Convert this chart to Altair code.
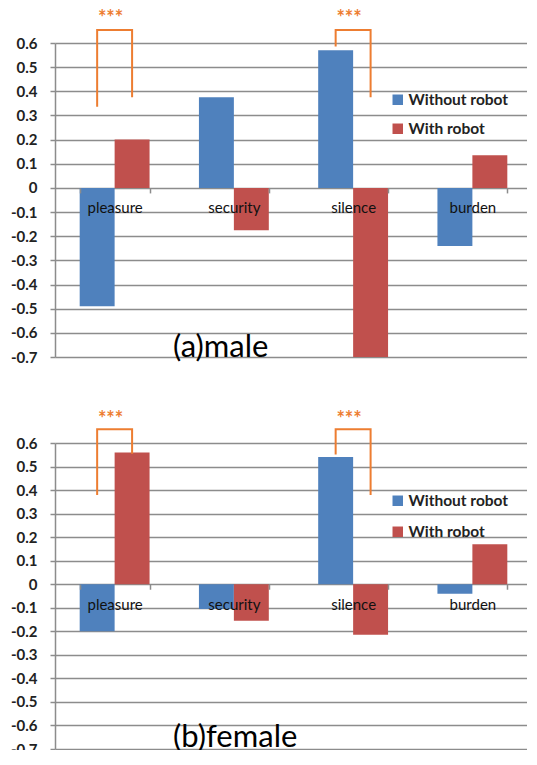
import altair as alt
import pandas as pd

categories = ["pleasure", "security", "silence", "burden"]
series = ["Without robot", "With robot"]
male_without = [-0.49, 0.375, 0.57, -0.24]
male_with = [0.20, -0.175, -0.70, 0.135]
female_without = [-0.20, -0.105, 0.54, -0.04]
female_with = [0.56, -0.155, -0.215, 0.17]

# significance brackets: (category, left-leg bottom, right-leg bottom, top)
male_brackets = [("pleasure", 0.336, 0.375, 0.654), ("silence", 0.586, 0.375, 0.654)]
female_brackets = [("pleasure", 0.379, 0.554, 0.658), ("silence", 0.551, 0.379, 0.658)]
star_y = 0.742
star_label = "***"
y_ticks = [0.6, 0.5, 0.4, 0.3, 0.2, 0.1, 0.0, -0.1, -0.2, -0.3, -0.4, -0.5, -0.6, -0.7]

BLUE = "#4F81BD"
RED = "#C0504D"
ORANGE = "#ED7D31"
GRID = "#8c8c8c"
FONT = "Lato"


def panel(without, with_, brackets, title, title_y, W, H, legend_y, row_pad):
    rows = []
    for c, a, b in zip(categories, without, with_):
        rows.append({"cat": c, "series": series[0], "v": a})
        rows.append({"cat": c, "series": series[1], "v": b})
    df = pd.DataFrame(rows)

    brows = []
    for i, (c, l, r, t) in enumerate(brackets):
        brows += [
            {"b": i, "o": 0, "cat": c, "series": series[0], "v": l},
            {"b": i, "o": 1, "cat": c, "series": series[0], "v": t},
            {"b": i, "o": 2, "cat": c, "series": series[1], "v": t},
            {"b": i, "o": 3, "cat": c, "series": series[1], "v": r},
        ]
    bdf = pd.DataFrame(brows)
    sdf = pd.DataFrame({"cat": [b[0] for b in brackets], "v": [star_y] * len(brackets),
                        "s": [star_label] * len(brackets)})

    xscale = alt.Scale(domain=categories, paddingInner=0.414, paddingOuter=0.207)
    yscale = alt.Scale(domain=[-0.7, 0.6], nice=False, zero=False)
    offscale = alt.Scale(domain=series, paddingInner=0, paddingOuter=0)

    xaxis = alt.Axis(
        title=None, orient="bottom", offset=-(H * 0.7 / 1.3), tickBand="extent",
        tickSize=5, tickColor=GRID, tickWidth=1.5, domain=False,
        labelFontSize=15, labelColor="#111", labelFont=FONT, labelPadding=8,
        labelAngle=0, grid=False, zindex=1,
    )
    yaxis = alt.Axis(
        title=None, values=y_ticks, tickSize=5, tickColor=GRID, tickWidth=1.5,
        domainColor=GRID, domainWidth=1.5, gridColor=GRID, gridWidth=1.4,
        labelFontSize=15, labelFontWeight="bold", labelColor="#222", labelFont=FONT,
        labelPadding=13, labelOverlap=False, labelFlush=False, labelBound=False,
        labelExpr="datum.value == 0 ? '0' : replace(format(datum.value, '.1f'), '\u2212', '-')",
    )

    X = alt.X("cat:N", scale=xscale, axis=xaxis, sort=categories)
    XO = alt.XOffset("series:N", scale=offscale, sort=series)
    Y = alt.Y("v:Q", scale=yscale, axis=yaxis)

    bars = alt.Chart(df).mark_bar().encode(
        x=X, xOffset=XO, y=Y,
        color=alt.Color(
            "series:N", sort=series,
            scale=alt.Scale(domain=series, range=[BLUE, RED]),
            legend=alt.Legend(
                title=None, orient="none", legendX=335, legendY=legend_y,
                symbolType="square", symbolSize=110, symbolStrokeWidth=0,
                labelFontSize=15.5, labelFontWeight="bold", labelColor="#222",
                labelFont=FONT, rowPadding=row_pad, padding=0, labelOffset=3,
            ),
        ),
    )

    lines = alt.Chart(bdf).mark_line(color=ORANGE, strokeWidth=2, clip=False).encode(
        x=X, xOffset=XO, y=Y, detail="b:N", order="o:Q",
    )

    stars = alt.Chart(sdf).mark_text(
        color=ORANGE, fontSize=20, fontWeight="bold", font=FONT, baseline="top",
        clip=False, dx=-4,
    ).encode(x=X, y=Y, text="s:N")

    label = alt.Chart(pd.DataFrame({"t": [title]})).mark_text(
        fontSize=31, font=FONT, color="#000", align="left", baseline="middle"
    ).encode(
        x=alt.value(118),
        y=alt.datum(title_y, scale=yscale, axis=yaxis),
        text="t:N",
    )

    return alt.layer(bars, lines, stars, label).properties(width=W, height=H)


top = panel(male_without, male_with, male_brackets, "(a)male", -0.663, 477, 314, 49, 12)
bottom = panel(female_without, female_with, female_brackets, "(b)female", -0.655, 477, 306, 50, 14)

chart = alt.vconcat(top, bottom, spacing=44).resolve_scale(color="independent").properties(
    padding={"left": 2, "top": 0, "right": -5, "bottom": -7}
).configure(
    background="white",
    view=alt.ViewConfig(stroke=None),
    axis=alt.AxisConfig(labelOverlap=False),
)

chart.save("out.html", embed_options={"renderer": "svg", "actions": False})
